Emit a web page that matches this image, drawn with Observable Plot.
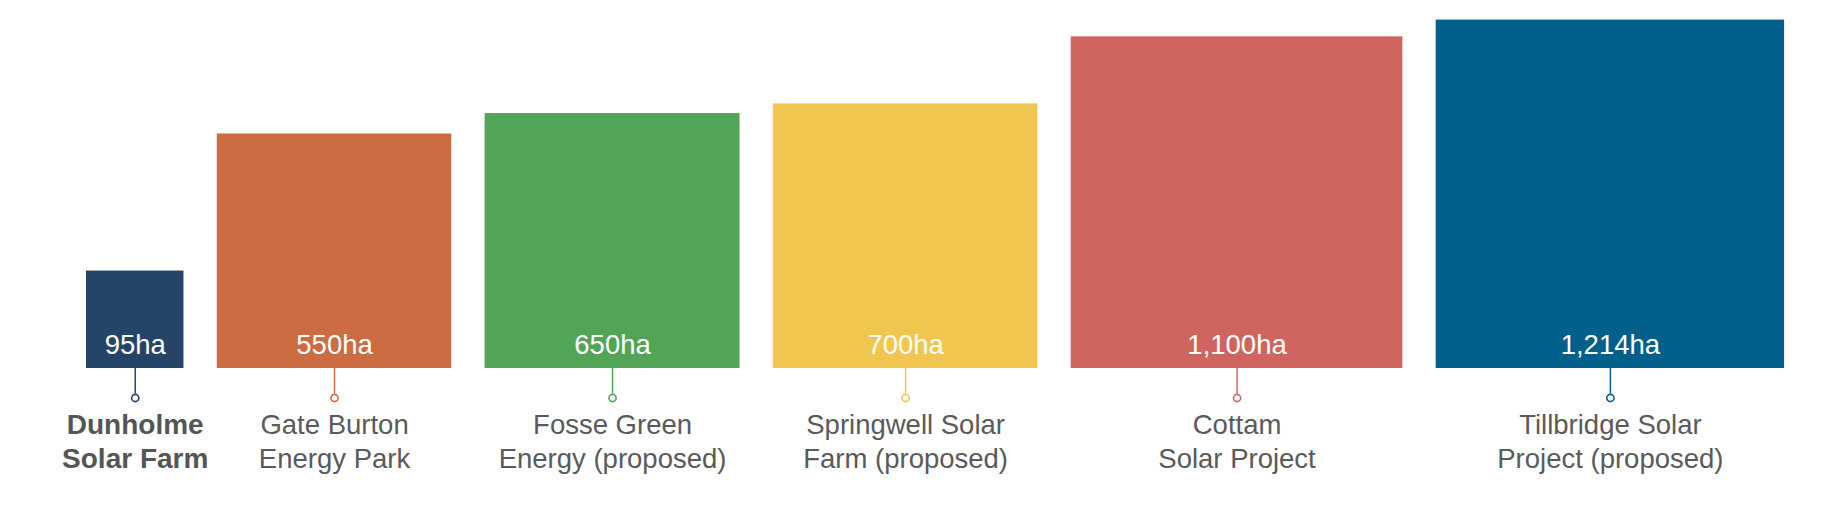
<!DOCTYPE html>
<html>
<head>
<meta charset="utf-8">
<script src="https://cdn.jsdelivr.net/npm/d3@7"></script>
<script src="https://cdn.jsdelivr.net/npm/@observablehq/plot@0.6"></script>
<style>
  html, body { margin: 0; padding: 0; background: #ffffff; }
  #chart svg { display: block; }
</style>
</head>
<body>
<div id="chart"></div>
<script>
// ---- data ----
const names = [
  "Dunholme\nSolar Farm",
  "Gate Burton\nEnergy Park",
  "Fosse Green\nEnergy (proposed)",
  "Springwell Solar\nFarm (proposed)",
  "Cottam\nSolar Project",
  "Tillbridge Solar\nProject (proposed)"
];
const hectares = [95, 550, 650, 700, 1100, 1214];
const valueLabels = ["95ha", "550ha", "650ha", "700ha", "1,100ha", "1,214ha"];
const colors = ["#244567", "#cc6c42", "#52a556", "#f1c64f", "#d06560", "#00608c"];
const highlight = [true, false, false, false, false, false];

// ---- layout (square side ∝ sqrt(area)) ----
const gap = 3.33;              // gap between squares, in sqrt-ha units
let cursor = 0;
const rows = hectares.map((ha, i) => {
  const side = Math.sqrt(ha);
  const r = {
    name: names[i], ha, label: valueLabels[i], color: colors[i], bold: highlight[i],
    x1: cursor, x2: cursor + side, xc: cursor + side / 2, side
  };
  cursor += side + gap;
  return r;
});
const total = cursor - gap;
const pxPerUnit = 10;
const width = 1846, height = 516;
const marginLeft = 86;
const marginRight = width - marginLeft - total * pxPerUnit;
const baseline = 368;
const marginBottom = height - baseline;
const yMax = baseline / pxPerUnit;

const font = "'Liberation Sans', Arial, Helvetica, sans-serif";

const chart = Plot.plot({
  width, height,
  marginLeft, marginRight, marginTop: 0, marginBottom,
  x: { domain: [0, total], axis: null },
  y: { domain: [0, yMax], axis: null },
  style: { fontFamily: font, background: "#ffffff" },
  marks: [
    Plot.rect(rows, { x1: "x1", x2: "x2", y1: 0, y2: "side", fill: d => d.color }),
    Plot.ruleX(rows, { x: "xc", y1: 0, y2: -2.55, stroke: d => d.color, strokeWidth: 1.5 }),
    Plot.dot(rows, { x: "xc", y: -2.95, r: 3.6, stroke: d => d.color, fill: "#ffffff", strokeWidth: 1.6 }),
    Plot.text(rows, {
      x: "xc", y: 0, text: "label", fill: "#ffffff",
      fontSize: 27.5, fontWeight: 300, lineAnchor: "bottom", dy: -15
    }),
    Plot.text(rows.filter(d => !d.bold), {
      x: "xc", y: 0, text: "name", fill: "#5a5a5a",
      fontSize: 27.5, lineAnchor: "top", lineHeight: 1.25, dy: 41
    }),
    Plot.text(rows.filter(d => d.bold), {
      x: "xc", y: 0, text: "name", fill: "#555555",
      fontSize: 28, fontWeight: "bold", lineAnchor: "top", lineHeight: 1.23, dy: 41
    })
  ]
});
document.getElementById("chart").append(chart);
</script>
</body>
</html>
